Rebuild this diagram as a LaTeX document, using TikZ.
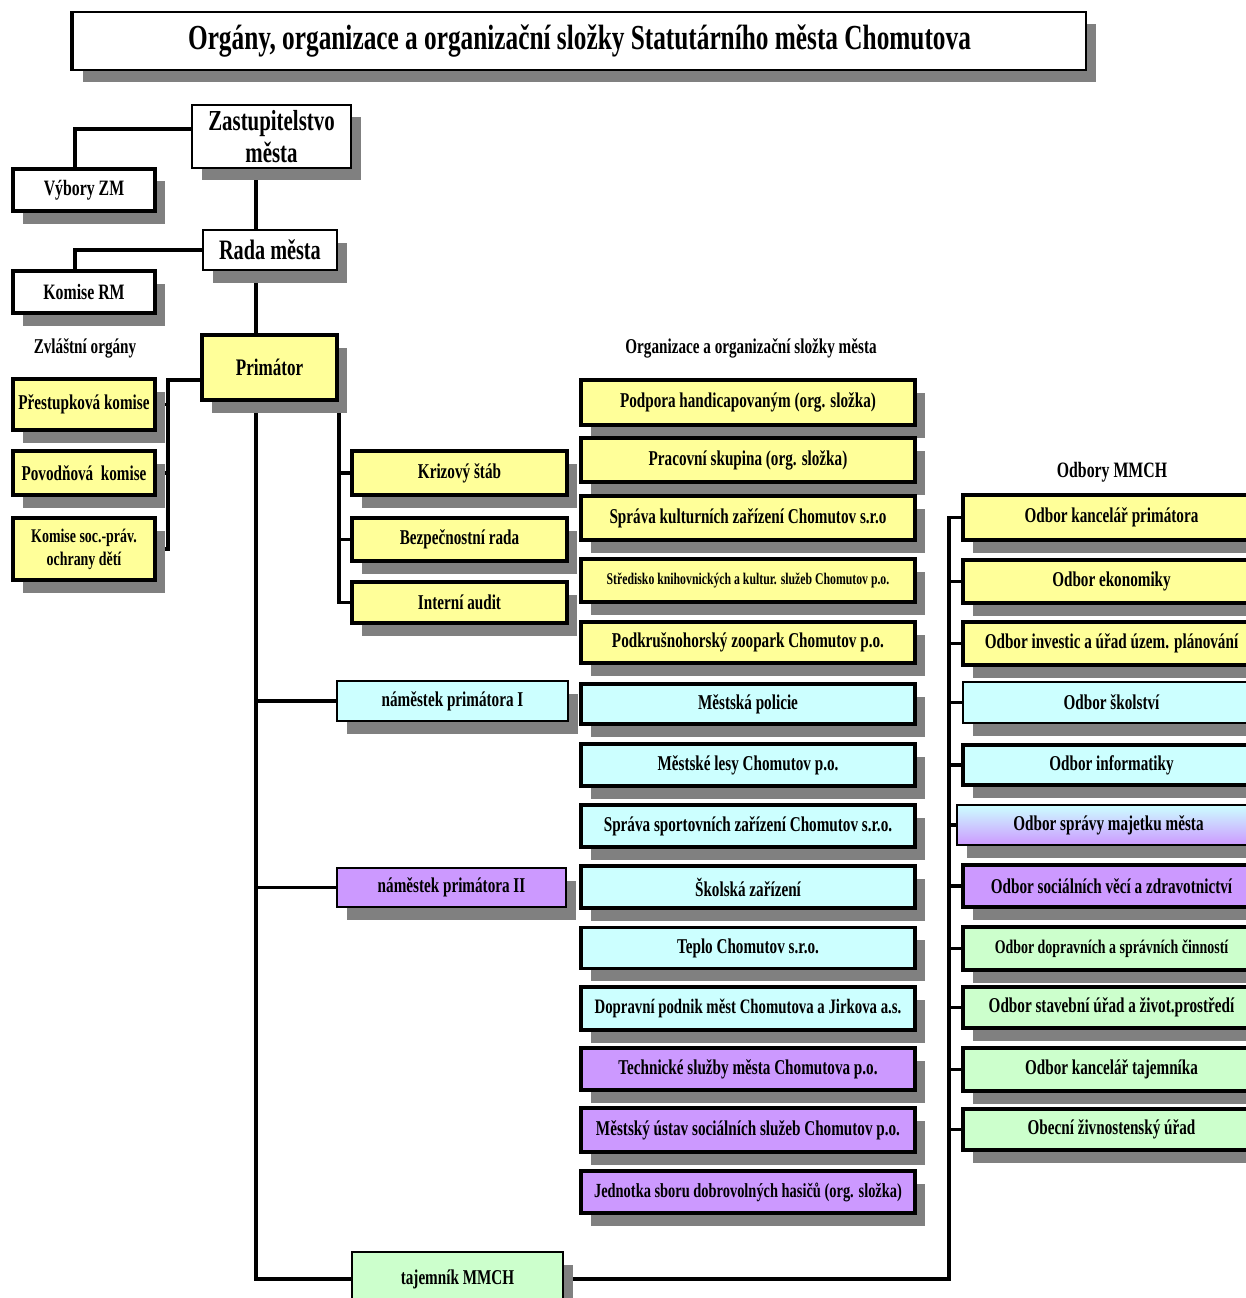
\documentclass[tikz,border=0pt]{standalone}
\usepackage{fontspec}
\setmainfont[FakeStretch=0.72]{Liberation Serif}
\usetikzlibrary{shadows,backgrounds}

\definecolor{orgyellow}{HTML}{FFFF99}
\definecolor{orgcyan}{HTML}{CCFFFF}
\definecolor{orgviolet}{HTML}{CC99FF}
\definecolor{orggreen}{HTML}{CCFFCC}
\definecolor{shade}{HTML}{808080}

\newcommand{\orgfont}[1]{\fontsize{#1}{#1}\selectfont\bfseries}

\begin{document}
\begin{tikzpicture}[x=0.02cm,y=-0.02cm,
    box/.style={draw,line width=2pt,align=center,inner sep=1pt,font=\orgfont{12},
      drop shadow={shadow xshift=0.2cm,shadow yshift=-0.25cm,fill=shade,opacity=1}},
    thinrule/.style={line width=1pt},
    dim/.style 2 args={minimum width=#1*0.02cm,minimum height=#2*0.02cm},
    ybox/.style={box,fill=orgyellow},
    cbox/.style={box,fill=orgcyan},
    vbox/.style={box,fill=orgviolet},
    gbox/.style={box,fill=orggreen},
    wbox/.style={box,fill=white},
    link/.style={line width=2.2pt},
    caption/.style={font=\orgfont{12}}]
    \useasboundingbox (0,0) rectangle (1245,1298);

    \node[wbox,thinrule,dim={1013}{58},font=\orgfont{20}] (title) at (579.5,41)
        {Orgány, organizace a organizační složky Statutárního města Chomutova};
    \draw[line width=2pt] (title.north west) -- (title.south west);

    % samosprava
    \node[wbox,thinrule,dim={159}{63},font=\orgfont{16.5}] (zast) at (271.5,136.5) {Zastupitelstvo\\[2pt]města};
    \node[wbox,dim={142}{42},font=\orgfont{12.5}] (vybory) at (84,190) {Výbory ZM};
    \node[wbox,thinrule,dim={134}{40},font=\orgfont{16}] (rada) at (270,250) {Rada města};
    \node[wbox,dim={142}{42},font=\orgfont{12.5}] (komrm) at (84,292) {Komise RM};
    \node[ybox,dim={135}{65},font=\orgfont{13.5}] (prim) at (269.5,367.5) {Primátor};

    % zvlastni organy
    \node[caption] (zvl) at (85,348) {Zvláštní orgány};
    \node[ybox,dim={142}{51},font=\orgfont{12}] (prest) at (84,404.5) {Přestupková komise};
    \node[ybox,dim={142}{44},font=\orgfont{12}] (povod) at (84,473) {Povodňová\ \ komise};
    \node[ybox,dim={142}{62},font=\orgfont{11}] (komsoc) at (84,549) {Komise soc.-práv.\\[2pt]ochrany dětí};

    \node[ybox,dim={215}{44}] (krizovy) at (459.5,473) {Krizový štáb};
    \node[ybox,dim={215}{43}] (bezp) at (459.5,539.5) {Bezpečnostní rada};
    \node[ybox,dim={215}{41}] (audit) at (459.5,602.5) {Interní audit};

    \node[cbox,thinrule,dim={231}{40}] (nam1) at (452.5,701) {náměstek primátora I};
    \node[vbox,thinrule,dim={229}{39}] (nam2) at (451.5,887.5) {náměstek primátora II};
    \node[gbox,thinrule,dim={211}{54}] (tajem) at (457.5,1279) {tajemník MMCH};

    % organizace a organizacni slozky
    \node[caption] (orgcap) at (751,348) {Organizace a organizační složky města};
    \node[ybox,dim={334}{45}] (org1) at (748,402.5) {Podpora handicapovaným (org. složka)};
    \node[ybox,dim={334}{44}] (org2) at (748,460) {Pracovní skupina (org. složka)};
    \node[ybox,dim={334}{44}] (org3) at (748,518) {Správa kulturních zařízení Chomutov s.r.o};
    \node[ybox,dim={334}{43},font=\orgfont{9.3}] (org4) at (748,580.5) {Středisko knihovnických a kultur. služeb Chomutov p.o.};
    \node[ybox,dim={334}{41}] (org5) at (748,642.5) {Podkrušnohorský zoopark Chomutov p.o.};
    \node[cbox,dim={334}{40}] (org6) at (748,704) {Městská policie};
    \node[cbox,dim={334}{42}] (org7) at (748,765) {Městské lesy Chomutov p.o.};
    \node[cbox,dim={334}{42}] (org8) at (748,826) {Správa sportovních zařízení Chomutov s.r.o.};
    \node[cbox,dim={334}{42}] (org9) at (748,887) {Školská zařízení};
    \node[cbox,dim={334}{41}] (org10) at (748,948) {Teplo Chomutov s.r.o.};
    \node[cbox,dim={334}{43},font=\orgfont{11.7}] (org11) at (748,1008.5) {Dopravní podnik měst Chomutova a Jirkova a.s.};
    \node[vbox,dim={334}{42}] (org12) at (748,1069) {Technické služby města Chomutova p.o.};
    \node[vbox,dim={334}{44}] (org13) at (748,1130) {Městský ústav sociálních služeb Chomutov p.o.};
    \node[vbox,dim={334}{42},font=\orgfont{11.4}] (org14) at (748,1192) {Jednotka sboru dobrovolných hasičů (org. složka)};

    % odbory
    \node[caption,font=\orgfont{12.5}] (odbcap) at (1112,472) {Odbory MMCH};
    \node[ybox,dim={297}{45}] (odb1) at (1111.5,517.5) {Odbor kancelář primátora};
    \node[ybox,dim={297}{43}] (odb2) at (1111.5,581.5) {Odbor ekonomiky};
    \node[ybox,dim={297}{43}] (odb3) at (1111.5,643.5) {Odbor investic a úřad územ. plánování};
    \node[cbox,thinrule,dim={297}{41}] (odb4) at (1111.5,702.5) {Odbor školství};
    \node[cbox,dim={297}{40}] (odb5) at (1111.5,765) {Odbor informatiky};
    \node[box,thinrule,top color=orgcyan,bottom color=orgviolet,dim={303}{40}] (odb6) at (1108.5,825) {Odbor správy majetku města};
    \node[vbox,dim={297}{42}] (odb7) at (1111.5,886) {Odbor sociálních věcí a zdravotnictví};
    \node[gbox,dim={297}{43},font=\orgfont{11}] (odb8) at (1111.5,948.5) {Odbor dopravních a správních činností};
    \node[gbox,dim={297}{41}] (odb9) at (1111.5,1007.5) {Odbor stavební úřad a život.prostředí};
    \node[gbox,dim={297}{43}] (odb10) at (1111.5,1069.5) {Odbor kancelář tajemníka};
    \node[gbox,dim={297}{41}] (odb11) at (1111.5,1129.5) {Obecní živnostenský úřad};

    \begin{scope}[on background layer]
        \coordinate (trunk) at (256,0);
        \coordinate (vz) at (75,129);
        \coordinate (zo) at (168,380);
        \coordinate (odbtrunk) at (949,0);

        \draw[link] (zast.west |- vz) -- (vz) -- (vybory.north -| vz);
        \draw[link] (rada.west) -| (komrm.north -| vz);
        \draw[link] (zast.south -| trunk) -- (rada.north -| trunk);
        \draw[link] (rada.south -| trunk) -- (prim.north -| trunk);
        \draw[link] (prim.south -| trunk) -- (tajem.west -| trunk) -- (tajem.west);
        \draw[link] (nam1.west) -- (nam1.west -| trunk);
        \draw[link] (nam2.west) -- (nam2.west -| trunk);

        \draw[link] (prim.west |- zo) -- (zo) |- (komsoc.east);
        \draw[link] (prest.east) -- (prest.east -| zo);
        \draw[link] (povod.east) -- (povod.east -| zo);

        \draw[link] (prim.south east) |- (audit.west);
        \draw[link] (krizovy.west) -- (krizovy.west -| prim.east);
        \draw[link] (bezp.west) -- (bezp.west -| prim.east);

        \draw[link] (tajem.east) -| (odb1.west -| odbtrunk) -- (odb1.west);
        \foreach \n in {odb2,odb3,odb4,odb5,odb6,odb7,odb8,odb9,odb10,odb11}
            \draw[link] (\n.west) -- (\n.west -| odbtrunk);
    \end{scope}
\end{tikzpicture}
\end{document}
